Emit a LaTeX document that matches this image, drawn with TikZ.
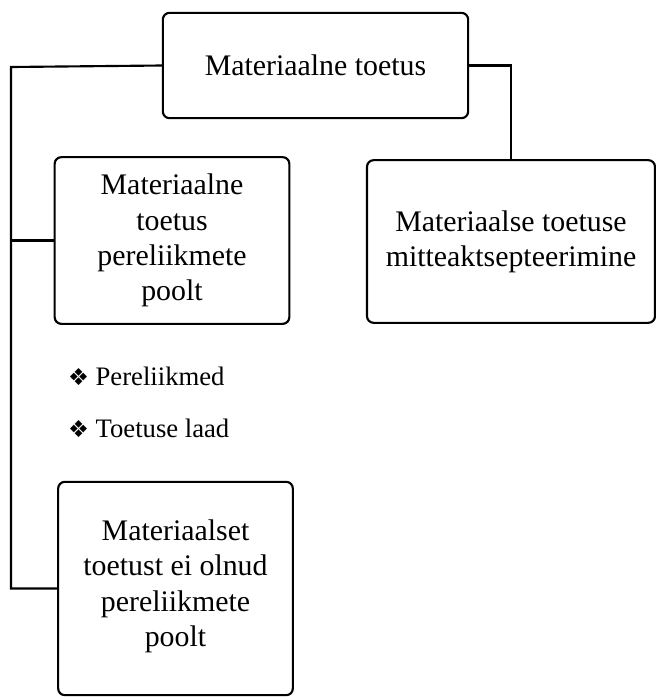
\documentclass[tikz,border=0pt]{standalone}
\usepackage{fontspec}
\setmainfont{Liberation Serif}
\newfontfamily\bulletfont{DejaVu Sans}
\begin{document}
\begin{tikzpicture}[x=0.75pt, y=-0.75pt, line width=1.6pt,
	box/.style={draw, rounded corners=5pt, align=center, inner sep=0pt,
		font=\fontsize{22.4}{26.4}\selectfont},
	item/.style={anchor=west, inner sep=0pt, font=\fontsize{20}{24}\selectfont}]
	\useasboundingbox (0,0) rectangle (656,697);
	
	% 1. 方框
	\node[box, minimum width=229pt, minimum height=79pt] (top) at (315.5,65.5) {Materiaalne toetus};
	\node[box, minimum width=176pt, minimum height=125pt] (pos) at (172,240.5)
		{Materiaalne\\toetus\\pereliikmete\\poolt};
	\node[box, minimum width=216pt, minimum height=122pt] (rej) at (511,241.5)
		{Materiaalse toetuse\\mitteaktsepteerimine};
	\node[box, minimum width=176pt, minimum height=160pt] (neg) at (175.5,588.5)
		{\\[-14pt]Materiaalset\\toetust ei olnud\\pereliikmete\\poolt};
	
	% 2. 列表
	\node[item] (peri) at (67,376) {{\bulletfont\fontsize{17.5}{17.5}\selectfont ❖}\hspace{5pt}Pereliikmed};
	\node[item] (laad) at (67,428) {{\bulletfont\fontsize{17.5}{17.5}\selectfont ❖}\hspace{5pt}Toetuse laad};
	
	% 3. 连线
	\coordinate (trunk) at (11,67);
	\draw (top.west) -- (trunk) |- (neg.west);
	\draw (trunk |- pos.west) -- (pos.west);
	\draw (top.east) -| (rej.north);
\end{tikzpicture}
\end{document}
